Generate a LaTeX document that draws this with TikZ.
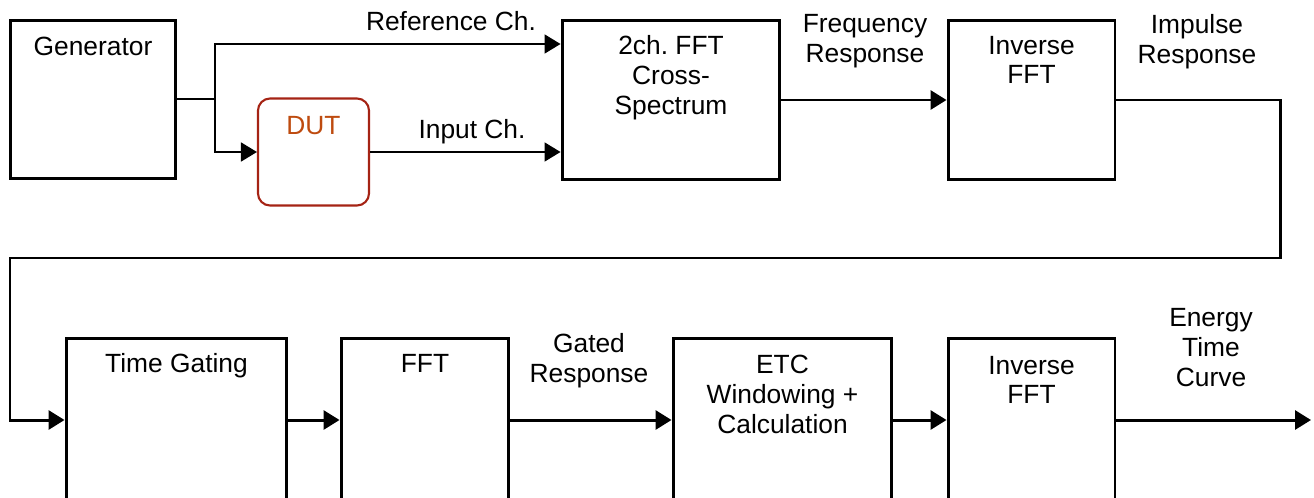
\documentclass[tikz,border=0pt]{standalone}
\usepackage{fontspec}
\setmainfont{Liberation Sans}
\usepackage{xcolor}
\usetikzlibrary{
    calc,
    arrows.meta,
    positioning
}
\frenchspacing
\definecolor{dutred}{RGB}{165,35,20}
\definecolor{dutorange}{RGB}{190,75,15}
\tikzset{
    block/.style={draw, line width=1.7pt, inner sep=0pt},
    blocktext/.style={anchor=north, align=center, inner sep=0pt, font=\fontsize{15pt}{17pt}\selectfont},
    wire/.style={line width=1.7pt},
    thinwire/.style={line width=1pt},
    flow/.style={-{Triangle[length=0.32cm,width=0.38cm]}}
}

\begin{document}
\begin{tikzpicture}[x=0.02cm,y=-0.02cm]
    \useasboundingbox (0,0) rectangle (1314,497);
    \clip (0,0) rectangle (1314,497);

    \node[block, minimum width=3.32cm, minimum height=3.18cm] (gen)   at (93,99.5)   {};
    \node[block, minimum width=2.22cm, minimum height=2.14cm, draw=dutred, line width=1.2pt,
          rounded corners=0.24cm]                              (dut)   at (313.5,152) {};
    \node[block, minimum width=4.36cm, minimum height=3.2cm]  (xs)    at (671,100)   {};
    \node[block, minimum width=3.34cm, minimum height=3.2cm]  (ifftA) at (1031.5,100){};

    \node[block, minimum width=4.42cm, minimum height=3.28cm] (gate)  at (176.5,420) {};
    \node[block, minimum width=3.36cm, minimum height=3.28cm] (fft)   at (425,420)   {};
    \node[block, minimum width=4.38cm, minimum height=3.28cm] (etc)   at (782.5,420) {};
    \node[block, minimum width=3.34cm, minimum height=3.28cm] (ifftB) at (1031.5,420){};

    \node[blocktext] (gent)   at ($(gen.north)+(0,18)$)   {Generator};
    \node[blocktext, text=dutorange] (dutt) at ($(dut.north)+(0,19)$) {DUT};
    \node[blocktext] (xst)    at ($(xs.north)+(0,17)$)    {2ch. FFT\\Cross-\\Spectrum};
    \node[blocktext] (ifftAt) at ($(ifftA.north)+(0,17)$) {Inverse\\FFT};
    \node[blocktext] (gatet)  at ($(gate.north)+(0,17)$)  {Time Gating};
    \node[blocktext] (fftt)   at ($(fft.north)+(0,17)$)   {FFT};
    \node[blocktext] (etct)   at ($(etc.north)+(0,18)$)   {ETC\\Windowing +\\Calculation};
    \node[blocktext] (ifftBt) at ($(ifftB.north)+(0,19)$) {Inverse\\FFT};

    \node[blocktext] (reflab)  at (451,11)   {Reference Ch.};
    \node[blocktext] (inlab)   at (472,119)  {Input Ch.};
    \node[blocktext] (freqlab) at (865,14)   {Frequency\\Response};
    \node[blocktext] (implab)  at (1197,14)  {Impulse\\Response};
    \node[blocktext] (gatlab)  at (589,333)  {Gated\\Response};
    \node[blocktext] (etclab)  at (1211,308) {Energy\\Time\\Curve};

    \coordinate (split) at (215,99);
    \coordinate (refch) at (215,44);
    \coordinate (inch)  at (215,152);
    \coordinate (loopr) at (1280,258);
    \coordinate (loopl) at (10,258);
    \coordinate (out)   at (1311,420);

    \draw[wire] (split -| gen.east) -- (split) -- (refch) -- ++(43,0);
    \draw[thinwire, flow] (refch) -- (refch -| xs.west);
    \draw[thinwire, flow] (split) -- (inch) -- (dut.west);
    \draw[thinwire, flow] (dut.east) -- (dut.east -| xs.west);

    \draw[wire, flow] (xs.east) -- (ifftA.west);
    \draw[wire, flow] (ifftA.east) -| (loopr) -- (loopl) |- (gate.west);
    \draw[wire, flow] (gate.east) -- (fft.west);
    \draw[wire, flow] (fft.east) -- (etc.west);
    \draw[wire, flow] (etc.east) -- (ifftB.west);
    \draw[wire, flow] (ifftB.east) -- (out);
\end{tikzpicture}
\end{document}
